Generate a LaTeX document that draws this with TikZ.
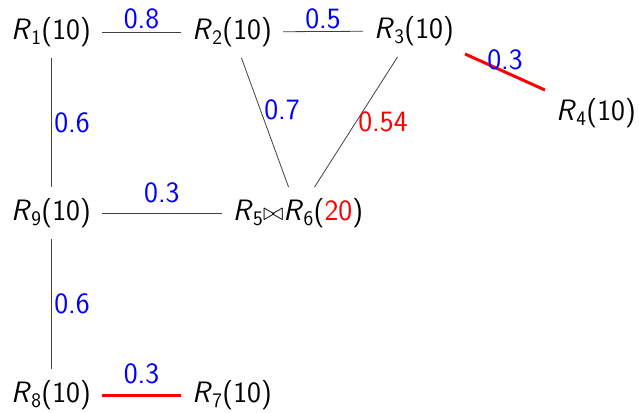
\documentclass[tikz,border=0pt]{standalone}
\newcommand{\Rel}[1]{\textsl{R}\textsubscript{#1}}
\begin{document}
\begin{tikzpicture}[x=1pt,y=-1pt,
  every node/.style={font=\sffamily\fontsize{29.5}{34}\selectfont},
  rel/.style={inner sep=11pt},
  edge/.style={draw=black!75,line width=0.8pt},
  hot/.style={draw=red,line width=3pt},
  wt/.style={text=blue,inner sep=0pt,midway},
  wtr/.style={text=red,inner sep=0pt,midway}]
\useasboundingbox (0,0) rectangle (639,412);
\node[rel] (r1) at (51,32) {\Rel{1}(10)};
\node[rel] (r2) at (232,32) {\Rel{2}(10)};
\node[rel] (r3) at (414,31) {\Rel{3}(10)};
\node[rel] (r4) at (596,113) {\Rel{4}(10)};
\node[rel] (r9) at (51,213) {\Rel{9}(10)};
\node[rel] (r56) at (298,213) {\Rel{5}{\fontsize{24}{28}\selectfont$\bowtie$}\Rel{6}(\textcolor{red}{20})};
\node[rel] (r8) at (51,395) {\Rel{8}(10)};
\node[rel] (r7) at (232,395) {\Rel{7}(10)};
\draw[edge] (r1) -- node[wt,yshift=13pt] {0.8} (r2);
\draw[edge] (r2) -- node[wt,yshift=13pt] {0.5} (r3);
\draw[hot] (r3) -- node[wt,yshift=12pt] {0.3} (r4);
\draw[edge] (r1) -- node[wt,xshift=21pt] {0.6} (r9);
\draw[edge] (r9) -- node[wt,xshift=21pt] {0.6} (r8);
\draw[edge] (r2) -- node[wt,xshift=17pt,yshift=13pt] {0.7} (r56);
\draw[edge] (r3) -- node[wtr,xshift=27pt] {0.54} (r56);
\draw[edge] (r9) -- node[wt,yshift=20pt] {0.3} (r56);
\draw[hot] (r8) -- node[wt,yshift=21pt] {0.3} (r7);
\end{tikzpicture}
\end{document}
